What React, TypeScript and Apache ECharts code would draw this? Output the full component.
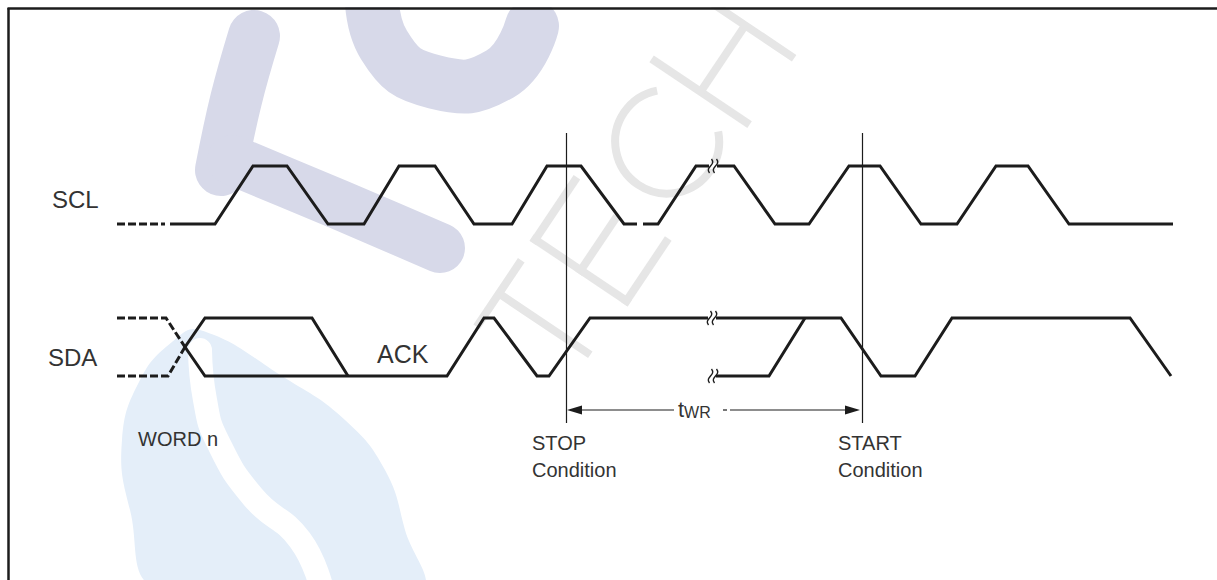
import React, { useEffect, useRef } from "react";
import * as echarts from "echarts";

// ---------- data: time along x, logic level (0 = low, 1 = high) ----------
const SCL_LEAD_TIME = [117, 165];
const SCL_LEAD_LEVEL = [0, 0];
const SCL_TIME = [170, 215, 253, 287, 328, 364, 399, 435, 474, 512, 547, 581, 624, 637, 640, 643, 658, 696, 734, 775, 809, 849, 880, 921, 957, 996, 1028, 1069, 1173];
const SCL_LEVEL = [0, 0, 1, 1, 0, 0, 1, 1, 0, 0, 1, 1, 0, 0, null, 0, 0, 1, 1, 0, 0, 1, 1, 0, 0, 1, 1, 0, 0];

const SDA_PREV_HIGH_TIME = [117, 166, 185];
const SDA_PREV_HIGH_LEVEL = [1, 1, 0.5];
const SDA_PREV_LOW_TIME = [117, 168, 185];
const SDA_PREV_LOW_LEVEL = [0, 0, 0.5];
const SDA_WORD_TIME = [185, 205, 312, 348];
const SDA_WORD_LEVEL = [0.5, 1, 1, 0];
const SDA_TIME = [185, 205, 447, 484, 494, 537, 549, 590, 841, 881, 915, 952, 1130, 1171];
const SDA_LEVEL = [0.5, 0, 0, 1, 1, 0, 0, 1, 1, 0, 0, 1, 1, 0];
const SDA_ALT_TIME = [716, 769, 805];
const SDA_ALT_LEVEL = [0, 0, 1];

const STOP_TIME = 566;
const START_TIME = 862;
const BREAK_TIME = 713;
// [time, level, cut line?]
const SCL_BREAKS = [[BREAK_TIME, 1, 1]];
const SDA_BREAKS = [[BREAK_TIME - 1, 1, 1], [BREAK_TIME, 0, 0]];

const SIGNAL_NAMES = ["SCL", "SDA"];
const ACK_LABEL = "ACK";
const WORD_LABEL = "WORD n";
const CONDITION_NAMES = ["STOP", "START"];
const CONDITION_WORD = "Condition";
const TWR_MAIN = "t";
const TWR_SUB = "WR";

// ---------- styling / layout ----------
const W = 1217;
const H = 580;
const INK = "#1c1c1c";
const TEXT = "#333333";
const FONT = '"Liberation Sans", Arial, Helvetica, sans-serif';
const LAV = "#d7d9e9";
const BLUE = "#e4eef9";
const GRAYW = "#e6e6e6";
const MARK_TOP = 133;
const MARK_BOTTOM = 423;
const ARROW_Y = 410;

const zip = (t: number[], l: (number | null)[]) =>
  t.map((x, i) => [x, l[i] === null ? "-" : l[i]]);

const lineSeries = (data: any[], idx: number, dashed = false) => ({
  type: "line",
  xAxisIndex: idx,
  yAxisIndex: idx,
  data,
  symbol: "none",
  showSymbol: false,
  clip: false,
  connectNulls: false,
  silent: true,
  z: 5,
  lineStyle: {
    color: INK,
    width: 3,
    type: dashed ? [8, 3] : "solid",
    cap: "butt",
    join: "miter",
  },
});

const breakSeries = (data: number[][], idx: number) => ({
  type: "custom",
  xAxisIndex: idx,
  yAxisIndex: idx,
  data,
  z: 7,
  silent: true,
  renderItem: (_p: any, api: any) => {
    const p = api.coord([api.value(0), api.value(1)]);
    const children: any[] = [];
    if (api.value(2) === 1) {
      children.push({
        type: "rect",
        shape: { x: p[0] - 4, y: p[1] - 3, width: 8, height: 6 },
        style: { fill: "#ffffff" },
      });
    }
    for (const dx of [-2.5, 2.5]) {
      const x = p[0] + dx;
      children.push({
        type: "bezierCurve",
        shape: {
          x1: x + 1, y1: p[1] - 7,
          cpx1: x + 6, cpy1: p[1] - 1,
          cpx2: x - 6, cpy2: p[1] + 1,
          x2: x - 1, y2: p[1] + 7,
        },
        style: { stroke: INK, lineWidth: 1.4, fill: null },
      });
    }
    return { type: "group", children };
  },
});

const txt = (text: string, x: number, y: number, size: number) => ({
  type: "text",
  x,
  y,
  z: 20,
  silent: true,
  style: {
    text,
    font: `${size}px ${FONT}`,
    fill: TEXT,
    align: "left",
    verticalAlign: "middle",
    textAlign: "left",
    textVerticalAlign: "middle",
  },
});

const band = (points: number[][], width: number, color: string, smooth = 0.4) => ({
  type: "polyline",
  z: 0,
  silent: true,
  shape: { points, smooth },
  style: { stroke: color, lineWidth: width, lineCap: "round", lineJoin: "round", fill: null },
});

const seg = (x1: number, y1: number, x2: number, y2: number) => ({
  type: "line",
  shape: { x1, y1, x2, y2 },
  style: { stroke: GRAYW, lineWidth: 8, lineCap: "butt" },
});

export default function App() {
  const ref = useRef<HTMLDivElement>(null);

  useEffect(() => {
    document.body.style.margin = "0";
    document.body.style.background = "#ffffff";
    const chart = echarts.init(ref.current!, null, { renderer: "svg" });

    const axisX = (idx: number) => ({ type: "value", gridIndex: idx, min: 0, max: W, show: false });
    const option: any = {
      animation: false,
      backgroundColor: "#ffffff",
      grid: [
        { left: 0, width: W, top: 166, height: 58 },
        { left: 0, width: W, top: 318, height: 58 },
        { left: 0, width: W, top: 0, height: H },
      ],
      xAxis: [axisX(0), axisX(1), axisX(2)],
      yAxis: [
        { type: "value", gridIndex: 0, min: 0, max: 1, show: false },
        { type: "value", gridIndex: 1, min: 0, max: 1, show: false },
        { type: "value", gridIndex: 2, min: 0, max: H, inverse: true, show: false },
      ],
      series: [
        lineSeries(zip(SCL_LEAD_TIME, SCL_LEAD_LEVEL), 0, true),
        lineSeries(zip(SCL_TIME, SCL_LEVEL), 0),
        lineSeries(zip(SDA_PREV_HIGH_TIME, SDA_PREV_HIGH_LEVEL), 1, true),
        lineSeries(zip(SDA_PREV_LOW_TIME, SDA_PREV_LOW_LEVEL), 1, true),
        lineSeries(zip(SDA_WORD_TIME, SDA_WORD_LEVEL), 1),
        lineSeries(zip(SDA_TIME, SDA_LEVEL), 1),
        lineSeries(zip(SDA_ALT_TIME, SDA_ALT_LEVEL), 1),
        breakSeries(SCL_BREAKS, 0),
        breakSeries(SDA_BREAKS, 1),
        {
          type: "custom",
          xAxisIndex: 2,
          yAxisIndex: 2,
          data: [[STOP_TIME, 0], [START_TIME, 0]],
          z: 8,
          silent: true,
          renderItem: (_p: any, api: any) => {
            const x = Math.round(api.coord([api.value(0), 0])[0]) + 0.5;
            return {
              type: "line",
              shape: { x1: x, y1: MARK_TOP, x2: x, y2: MARK_BOTTOM },
              style: { stroke: INK, lineWidth: 1.2 },
            };
          },
        },
        {
          type: "custom",
          xAxisIndex: 2,
          yAxisIndex: 2,
          data: [[STOP_TIME, START_TIME]],
          z: 8,
          silent: true,
          renderItem: (_p: any, api: any) => {
            const x1 = api.coord([api.value(0), 0])[0] + 1;
            const x2 = api.coord([api.value(1), 0])[0] - 2;
            const y = ARROW_Y;
            const tx = x1 + 111;
            return {
              type: "group",
              children: [
                { type: "line", shape: { x1: x1 + 8, y1: y, x2: tx - 4, y2: y }, style: { stroke: INK, lineWidth: 1.2 } },
                { type: "line", shape: { x1: tx + 45, y1: y, x2: tx + 49, y2: y }, style: { stroke: INK, lineWidth: 1.2 } },
                { type: "line", shape: { x1: tx + 52, y1: y, x2: x2 - 8, y2: y }, style: { stroke: INK, lineWidth: 1.2 } },
                { type: "polygon", shape: { points: [[x1, y], [x1 + 15, y - 4.5], [x1 + 15, y + 4.5]] }, style: { fill: INK } },
                { type: "polygon", shape: { points: [[x2, y], [x2 - 15, y - 4.5], [x2 - 15, y + 4.5]] }, style: { fill: INK } },
                {
                  type: "text",
                  x: tx,
                  y: y + 10,
                  style: {
                    text: `{a|${TWR_MAIN}}{b|${TWR_SUB}}`,
                    align: "left",
                    verticalAlign: "bottom",
                    rich: {
                      a: { font: `22px ${FONT}`, fill: TEXT, verticalAlign: "bottom", lineHeight: 22 },
                      b: { font: `16px ${FONT}`, fill: TEXT, verticalAlign: "bottom", lineHeight: 17 },
                    },
                  },
                },
              ],
            };
          },
        },
      ],
      graphic: [
        // watermark: blue drop
        {
          type: "polygon",
          z: 0,
          silent: true,
          shape: {
            points: [[200, 330], [285, 378], [345, 420], [385, 470], [405, 530], [418, 590], [160, 590], [130, 510], [122, 440], [140, 380], [172, 342]],
            smooth: 0.45,
          },
          style: { fill: BLUE },
        },
        band([[200, 350], [205, 400], [217, 440], [253, 497], [300, 540], [322, 590]], 24, "#ffffff", 0.5),
        // watermark: lavender "fc"
        band([[254, 36], [236, 100], [221, 170]], 52, LAV),
        band([[232, 160], [340, 205], [440, 248]], 50, LAV, 0.2),
        band([[372, -20], [384, 45], [435, 82], [500, 74], [532, 26]], 54, LAV, 0.5),
        // watermark: "TECH"
        {
          type: "group",
          x: 568,
          y: 388,
          rotation: 0.98,
          z: 0,
          silent: true,
          children: [
            seg(0, -110, 80, -110),
            seg(40, -110, 40, 0),
            seg(105, -114, 105, 4),
            seg(101, -110, 180, -110),
            seg(101, -55, 170, -55),
            seg(101, 0, 180, 0),
            {
              type: "arc",
              shape: { cx: 260, cy: -55, r: 52, startAngle: Math.PI / 4, endAngle: (7 * Math.PI) / 4, clockwise: true },
              style: { stroke: GRAYW, lineWidth: 8, fill: null },
            },
            seg(320, -114, 320, 4),
            seg(400, -114, 400, 4),
            seg(320, -55, 400, -55),
          ],
        },
        // white margin outside the frame
        { type: "rect", z: 1, silent: true, shape: { x: 0, y: 0, width: W, height: 7 }, style: { fill: "#ffffff" } },
        { type: "rect", z: 1, silent: true, shape: { x: 0, y: 0, width: 7, height: H }, style: { fill: "#ffffff" } },
        // frame
        { type: "line", z: 2, silent: true, shape: { x1: 8.5, y1: 8, x2: 8.5, y2: H }, style: { stroke: INK, lineWidth: 2.5 } },
        { type: "line", z: 2, silent: true, shape: { x1: 7.5, y1: 8.5, x2: W, y2: 8.5 }, style: { stroke: INK, lineWidth: 2.5 } },
        // labels
        txt(SIGNAL_NAMES[0], 52, 199, 24),
        txt(SIGNAL_NAMES[1], 48, 357, 24),
        txt(ACK_LABEL, 377, 354, 25),
        txt(WORD_LABEL, 138, 439, 20),
        txt(CONDITION_NAMES[0], 532, 443, 20),
        txt(CONDITION_WORD, 532, 470, 20),
        txt(CONDITION_NAMES[1], 838, 443, 20),
        txt(CONDITION_WORD, 838, 470, 20),
      ],
    };
    chart.setOption(option);
    return () => chart.dispose();
  }, []);

  return <div ref={ref} style={{ width: W, height: H }} />;
}
